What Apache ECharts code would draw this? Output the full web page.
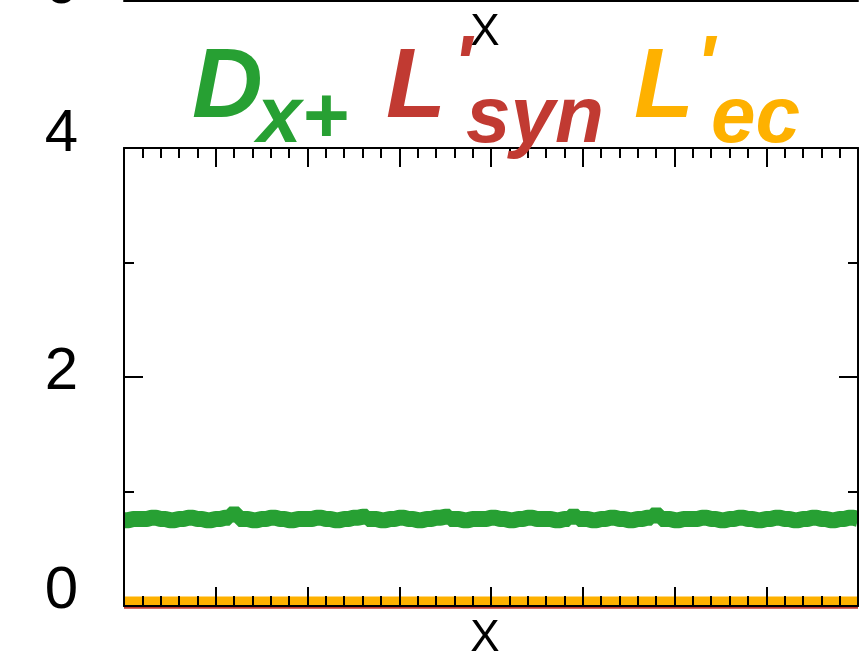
<!DOCTYPE html>
<html>
<head>
<meta charset="utf-8">
<script src="https://cdn.jsdelivr.net/npm/echarts@6/dist/echarts.min.js"></script>
<style>html,body{margin:0;padding:0;background:#fff}#c{width:859px;height:656px}</style>
</head>
<body>
<div id="c"></div>
<script>
// ---- data ----
const xMin = 0, xMax = 8;
const yTicks = [0, 2, 4];
const dxPlus = [0.75,0.76,0.76,0.77,0.76,0.75,0.76,0.77,0.76,0.75,0.76,0.77,0.80,0.76,0.75,0.76,0.77,0.76,0.75,0.76,
                0.76,0.77,0.76,0.75,0.76,0.77,0.78,0.76,0.75,0.76,0.77,0.76,0.75,0.76,0.77,0.78,0.76,0.75,0.76,0.76,
                0.77,0.76,0.75,0.76,0.77,0.76,0.76,0.75,0.76,0.78,0.76,0.75,0.76,0.77,0.76,0.75,0.76,0.77,0.79,0.76,
                0.75,0.76,0.76,0.77,0.76,0.75,0.76,0.77,0.76,0.75,0.76,0.77,0.76,0.75,0.76,0.77,0.76,0.75,0.76,0.77,0.76];
const lSyn = [-0.01,-0.01,-0.01,-0.01,-0.01,-0.01,-0.01,-0.01,-0.01,-0.01,-0.01,-0.01,-0.01,-0.01,-0.01,-0.01,-0.01,-0.01,-0.01,-0.01,
              -0.01,-0.01,-0.01,-0.01,-0.01,-0.01,-0.01,-0.01,-0.01,-0.01,-0.01,-0.01,-0.01,-0.01,-0.01,-0.01,-0.01,-0.01,-0.01,-0.01,
              -0.01,-0.01,-0.01,-0.01,-0.01,-0.01,-0.01,-0.01,-0.01,-0.01,-0.01,-0.01,-0.01,-0.01,-0.01,-0.01,-0.01,-0.01,-0.01,-0.01,
              -0.01,-0.01,-0.01,-0.01,-0.01,-0.01,-0.01,-0.01,-0.01,-0.01,-0.01,-0.01,-0.01,-0.01,-0.01,-0.01,-0.01,-0.01,-0.01,-0.01,-0.01];
const lEc = [0.04,0.04,0.04,0.04,0.04,0.04,0.04,0.04,0.04,0.04,0.04,0.04,0.04,0.04,0.04,0.04,0.04,0.04,0.04,0.04,
             0.04,0.04,0.04,0.04,0.04,0.04,0.04,0.04,0.04,0.04,0.04,0.04,0.04,0.04,0.04,0.04,0.04,0.04,0.04,0.04,
             0.04,0.04,0.04,0.04,0.04,0.04,0.04,0.04,0.04,0.04,0.04,0.04,0.04,0.04,0.04,0.04,0.04,0.04,0.04,0.04,
             0.04,0.04,0.04,0.04,0.04,0.04,0.04,0.04,0.04,0.04,0.04,0.04,0.04,0.04,0.04,0.04,0.04,0.04,0.04,0.04,0.04];
const xName = 'X';
const colors = {dx: '#27a033', syn: '#c13a32', ec: '#feb100'};

function pairs(arr){ const n = arr.length; return arr.map((v,i)=>[xMin + (xMax - xMin) * i / (n - 1), v]); }

const chart = echarts.init(document.getElementById('c'), null, {renderer: 'canvas'});
const FONT = '"Liberation Sans", Arial, Helvetica, sans-serif';
const NARROW = '"Liberation Sans Narrow", "Liberation Sans", Arial, sans-serif';
const tickStyle = {color: '#000', width: 2};
const labelRich = {
  a0: {fontSize: 60, fontFamily: FONT, color: '#000', padding: [0,0,30,0]},
  a2: {fontSize: 60, fontFamily: FONT, color: '#000', padding: [0,0,10,0]},
  a4: {fontSize: 60, fontFamily: FONT, color: '#000', padding: [0,0,28,0]}
};

function titleText(txt, x, baseline, size, color) {
  return {type: 'text', left: x, top: baseline - size * 0.86, z: 100,
    style: {text: txt, fontSize: size, fontWeight: 'bold', fontStyle: 'italic', fontFamily: NARROW, fill: color}};
}

chart.setOption({
  animation: false,
  grid: [
    {left: 124, right: 1, top: 148, bottom: 50, show: false, outerBoundsMode: 'none', containLabel: false},
    {left: 124, right: 1, top: -300, height: 301, show: false, outerBoundsMode: 'none', containLabel: false}
  ],
  xAxis: [
    {gridIndex: 0, type: 'value', min: xMin, max: xMax, interval: 1, position: 'bottom', z: 10,
     name: xName, nameLocation: 'middle', nameGap: 11,
     nameTextStyle: {fontSize: 44, fontFamily: NARROW, color: '#000', verticalAlign: 'top', padding: [0, 12, 0, 0]},
     axisLine: {show: true, lineStyle: {color: '#000', width: 2}},
     axisTick: {show: true, inside: true, length: 19, lineStyle: tickStyle},
     minorTick: {show: true, splitNumber: 5, length: 10, lineStyle: tickStyle},
     axisLabel: {show: false}, splitLine: {show: false}},
    {gridIndex: 0, type: 'value', min: xMin, max: xMax, interval: 1, position: 'top', z: 10,
     axisLine: {show: true, onZero: false, lineStyle: {color: '#000', width: 2}},
     axisTick: {show: true, inside: true, length: 19, lineStyle: tickStyle},
     minorTick: {show: true, splitNumber: 5, length: 10, lineStyle: tickStyle},
     axisLabel: {show: false}, splitLine: {show: false}},
    {gridIndex: 1, type: 'value', min: xMin, max: xMax, interval: 1, position: 'bottom',
     name: xName, nameLocation: 'middle', nameGap: 10,
     nameTextStyle: {fontSize: 44, fontFamily: NARROW, color: '#000', verticalAlign: 'top', padding: [0, 12, 0, 0]},
     axisLine: {show: true, lineStyle: {color: '#000', width: 2}},
     axisTick: {show: false}, axisLabel: {show: false}, splitLine: {show: false}}
  ],
  yAxis: [
    {gridIndex: 0, type: 'value', min: 0, max: 4, interval: 2, position: 'left', z: 10,
     axisLine: {show: true, onZero: false, lineStyle: {color: '#000', width: 2}},
     axisTick: {show: true, inside: true, length: 19, lineStyle: tickStyle},
     minorTick: {show: true, splitNumber: 2, length: 10, lineStyle: tickStyle},
     axisLabel: {show: true, margin: 46, formatter: v => '{a' + v + '|' + v + '}', rich: labelRich},
     splitLine: {show: false}},
    {gridIndex: 0, type: 'value', min: 0, max: 4, interval: 2, position: 'right', z: 10,
     axisLine: {show: true, onZero: false, lineStyle: {color: '#000', width: 2}},
     axisTick: {show: true, inside: true, length: 19, lineStyle: tickStyle},
     minorTick: {show: true, splitNumber: 2, length: 10, lineStyle: tickStyle},
     axisLabel: {show: false}, splitLine: {show: false}},
    {gridIndex: 1, type: 'value', min: 0, max: 4, interval: 2, position: 'left',
     axisLine: {show: false}, axisTick: {show: false},
     axisLabel: {show: true, margin: 46, formatter: v => v === 0 ? '{a0|0}' : '', rich: labelRich},
     splitLine: {show: false}}
  ],
  series: [
    {name: "L'syn", type: 'line', xAxisIndex: 0, yAxisIndex: 0, data: pairs(lSyn), showSymbol: false, clip: false,
     lineStyle: {color: colors.syn, width: 3}, z: 1},
    {name: "L'ec", type: 'line', xAxisIndex: 0, yAxisIndex: 0, data: pairs(lEc), showSymbol: false, clip: false,
     lineStyle: {color: colors.ec, width: 10}, z: 2},
    {name: 'Dx+', type: 'line', xAxisIndex: 0, yAxisIndex: 0, data: pairs(dxPlus), showSymbol: false, clip: false,
     step: 'middle', lineStyle: {color: colors.dx, width: 16, cap: 'butt'}, z: 3}
  ],
  graphic: [
    titleText('D', 192, 125, 98, colors.dx),
    titleText('x+', 257, 149, 80, colors.dx),
    titleText('L', 386, 125, 98, colors.syn),
    titleText("'", 453, 98, 80, colors.syn),
    titleText('syn', 466, 149, 80, colors.syn),
    titleText('L', 634, 125, 98, colors.ec),
    titleText("'", 696, 98, 80, colors.ec),
    titleText('ec', 711, 149, 80, colors.ec)
  ]
});
</script>
</body>
</html>
